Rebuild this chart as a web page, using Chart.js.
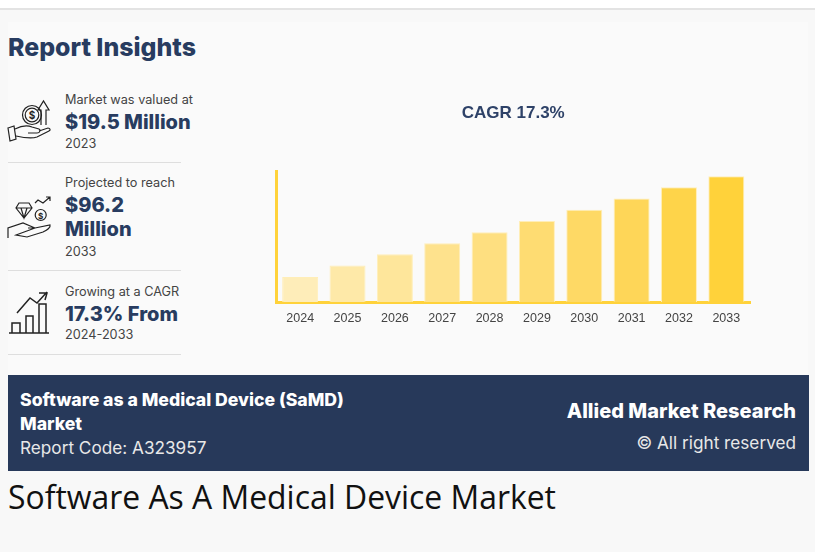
<!DOCTYPE html>
<html lang="en">

<head>
    <meta charset="UTF-8">
    <title>Software As A Medical Device Market</title>
    <script src="https://cdn.jsdelivr.net/npm/chart.js"></script>
    <style>
        html, body {
            margin: 0;
            padding: 0;
            width: 815px;
            height: 552px;
            overflow: hidden;
            background-color: #f8f8f8;
            font-family: Inter, sans-serif;
        }

        .topbar {
            position: absolute;
            left: 0;
            top: 0;
            width: 815px;
            height: 8px;
            background-color: #fff;
            border-bottom: 2px solid #e3e3e3;
        }

        .panel {
            position: absolute;
            left: 8px;
            top: 22px;
            width: 800px;
            height: 353px;
            background-color: #fafafa;
        }

        .txt {
            position: absolute;
            white-space: nowrap;
        }

        .heading {
            color: #283c60;
            font-weight: 800;
        }

        .small {
            color: #444;
            font-size: 12.7px;
        }

        .rule {
            position: absolute;
            left: 8px;
            width: 173px;
            height: 1px;
            background-color: #dedede;
        }

        .icons {
            position: absolute;
            left: 0;
            top: 0;
            fill: none;
            stroke: #222;
            stroke-width: 1.2;
        }

        .icons text {
            fill: #222;
            stroke: none;
            font-size: 10px;
            font-weight: 700;
            text-anchor: middle;
        }

        .chart-container {
            position: absolute;
            left: 260px;
            top: 90px;
            width: 510px;
            height: 240px;
        }

        .banner {
            position: absolute;
            left: 8px;
            top: 375px;
            width: 801px;
            height: 96px;
            background-color: #27395a;
        }

        .caption {
            position: absolute;
            left: 8px;
            top: 476px;
            font-family: "Open Sans", sans-serif;
            font-size: 31.9px;
            line-height: 41px;
            color: #111;
            white-space: nowrap;
        }
    </style>
</head>

<body>

    <div class="topbar"></div>
    <div class="panel"></div>

    <!-- Left column -->
    <div class="txt heading" style="left:8px;top:33px;font-size:24.9px;line-height:29px">Report Insights</div>

    <svg class="icons" width="60" height="345">
        <!-- coin, arrow and hand -->
        <circle cx="32" cy="115" r="9.5" />
        <circle cx="32" cy="115" r="6.8" />
        <text x="32" y="119">$</text>
        <path d="M41 125V110H38L43.5 101L49 110H46V125" />
        <path d="M8 128L14 126L16 139L10 141Z" />
        <path d="M15 129C21 126 27 125 32 127L39 129C41 130 40 133 37 133H28M39 131L48 128C50 128 51 130 49 131L37 137C31 139 25 138 16 136" />
        <!-- diamond, coin and hand -->
        <path d="M19 203H29L32 208L24 218L16 208ZM16 208H32M21 208L24 218L27 208" />
        <circle cx="40.7" cy="215" r="5.5" />
        <text x="40.7" y="218.500" style="font-size:8px">$</text>
        <path d="M35 203L38 200L43 203L50 197M46 197H50V201" />
        <path d="M8 238V228L23 223L35 228H28M35 228L50 225C51 228 47 230 43 232L27 237L16 235Z" />
        <!-- bars with rising arrow -->
        <path d="M9 333H49M12 333V323H20V333M26 333V316H33V333M39 333V304H46V333" stroke-width="1.5" />
        <path d="M17 313L30 298L37 303L47 292M39 293H47L45 300" stroke-width="1.5" />
    </svg>

    <div class="txt small" style="left:65px;top:92px;line-height:16px">Market was valued at</div>
    <div class="txt heading" style="left:65px;top:108px;font-size:20px;line-height:28px">$19.5 Million</div>
    <div class="txt small" style="left:65px;top:136px;line-height:16px">2023</div>
    <div class="rule" style="top:162px"></div>

    <div class="txt small" style="left:65px;top:175px;line-height:16px">Projected to reach</div>
    <div class="txt heading" style="left:65px;top:191px;font-size:20px;line-height:28px">$96.2</div>
    <div class="txt heading" style="left:65px;top:215px;font-size:20px;line-height:28px">Million</div>
    <div class="txt small" style="left:65px;top:244px;line-height:16px">2033</div>
    <div class="rule" style="top:270px"></div>

    <div class="txt small" style="left:65px;top:284px;line-height:16px">Growing at a CAGR</div>
    <div class="txt heading" style="left:65px;top:300px;font-size:20px;line-height:28px">17.3% From</div>
    <div class="txt small" style="left:65px;top:327px;line-height:16px">2024-2033</div>
    <div class="rule" style="top:354px"></div>

    <!-- Bar chart -->
    <div class="chart-container">
        <canvas id="marketChart"></canvas>
    </div>

    <!-- Bottom banner -->
    <div class="banner"></div>
    <div class="txt" style="left:20px;top:388px;color:#fff;font-weight:800;font-size:17.65px;line-height:23px">Software as a Medical Device (SaMD)</div>
    <div class="txt" style="left:20px;top:412px;color:#fff;font-weight:800;font-size:17.65px;line-height:23px">Market</div>
    <div class="txt" style="left:20px;top:436px;color:#e8e8e8;font-size:17.200px;line-height:24px">Report Code: A323957</div>
    <div class="txt" style="right:19px;top:398px;color:#fff;font-weight:800;font-size:20px;line-height:26px">Allied Market Research</div>
    <div class="txt" style="right:19px;top:431px;color:#e8e8e8;font-size:17.200px;line-height:24px">© All right reserved</div>

    <div class="caption">Software As A Medical Device Market</div>

    <script>
        const years = ['2024', '2025', '2026', '2027', '2028', '2029', '2030', '2031', '2032', '2033'];
        const marketSize = [19.2, 28, 36.6, 45, 53.5, 62, 70.6, 79.3, 87.8, 96.2];
        const barColors = ['#feedb9', '#fee9a8', '#fee69b', '#fee28d', '#fedf80', '#fedc72', '#fed965', '#fed658', '#fed44a', '#ffd23a'];
        const axisMax = 100;

        const ctx = document.getElementById('marketChart').getContext('2d');
        const marketChart = new Chart(ctx, {
            type: 'bar',
            data: {
                labels: years,
                datasets: [{
                    label: 'Market size ($ Million)',
                    data: marketSize,
                    backgroundColor: barColors,
                    borderColor: '#ffeeb8',
                    borderWidth: 1,
                    barPercentage: 0.76,
                    categoryPercentage: 1
                }]
            },
            options: {
                responsive: true,
                maintainAspectRatio: false,
                animation: false,
                layout: {
                    padding: { left: 16.5, right: 20, top: 13, bottom: 3 }
                },
                plugins: {
                    legend: { display: false },
                    tooltip: { enabled: false },
                    title: {
                        display: true,
                        text: 'CAGR 17.3%',
                        color: '#2e4268',
                        font: { family: 'Liberation Sans', size: 17, weight: 'bold' },
                        padding: { top: 0, bottom: 48 }
                    }
                },
                scales: {
                    x: {
                        grid: { display: false },
                        border: { color: '#ffd23a', width: 3 },
                        ticks: {
                            color: '#444',
                            font: { family: 'Liberation Sans', size: 12.5 },
                            maxRotation: 0,
                            padding: 1
                        }
                    },
                    y: {
                        min: 0,
                        max: axisMax,
                        grid: { display: false },
                        border: { color: '#ffd23a', width: 3 },
                        ticks: { display: false },
                        // no tick labels, so the axis takes no room beside the plot
                        afterFit(scale) {
                            scale.width = 0;
                        }
                    }
                }
            }
        });
    </script>
</body>

</html>
